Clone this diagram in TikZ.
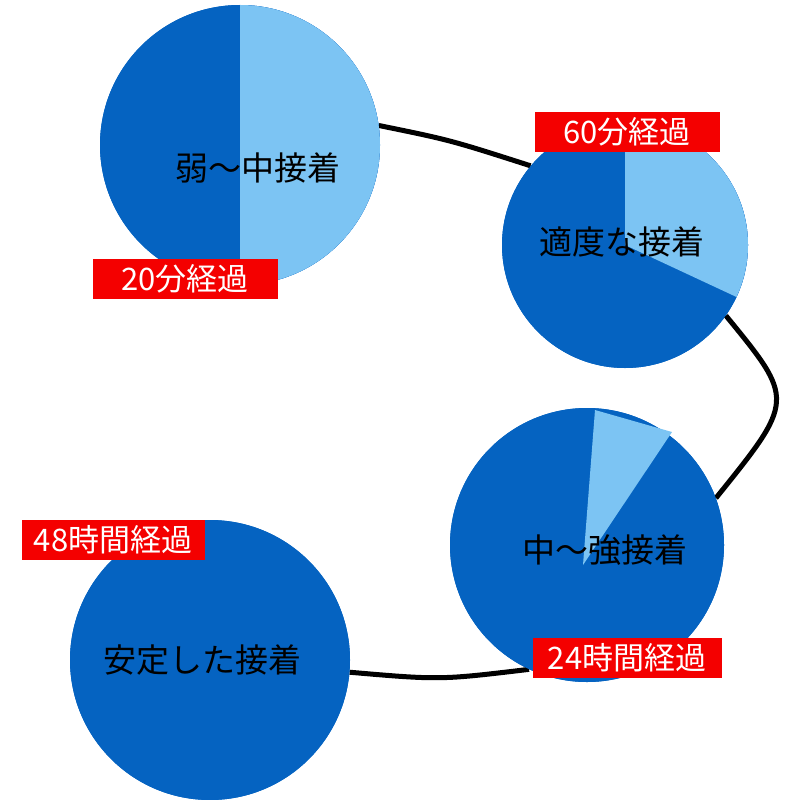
\documentclass[tikz,border=0pt]{standalone}
\usepackage{fontspec}
\newfontfamily\jp{Noto Sans CJK JP}
\definecolor{dk}{HTML}{0563C1}
\definecolor{lt}{HTML}{7CC4F3}
\definecolor{rd}{HTML}{F40000}
\begin{document}
\begin{tikzpicture}[x=1pt,y=-1pt,
  pie/.style={circle,fill=dk,inner sep=0pt},
  lbl/.style={fill=rd,text=white,font=\jp\fontsize{31}{34}\selectfont,inner sep=2pt,minimum height=40pt},
  ctr/.style={font=\jp\fontsize{33}{36}\selectfont,text=black},
  link/.style={line width=5pt,black}]
\useasboundingbox (0,0) rectangle (800,800);
\node[pie,minimum size=280pt] (c1) at (240,145) {};
\node[pie,minimum size=246pt] (c2) at (625,245) {};
\node[pie,minimum size=274pt] (c3) at (587,545) {};
\node[pie,minimum size=280pt] (c4) at (210,660) {};
\draw[link] (c1.8) .. controls (450,140) .. (c2.140);
\draw[link] (c2.-35) .. controls (795,400) .. (c3.20);
\draw[link] (c3.-115) .. controls (440,680) .. (c4.-5);
\node[pie,minimum size=280pt] at (240,145) {};
\fill[lt] (240,5) arc[start angle=-90,end angle=90,radius=140] -- cycle;
\node[pie,minimum size=246pt] at (625,245) {};
\fill[lt] (625,245) -- ++(0,-123) arc[start angle=-90,end angle=25,radius=123] -- cycle;
\node[pie,minimum size=274pt] at (587,545) {};
\fill[lt] (583,565) -- (595,410) -- (672,432) -- cycle;
\node[pie,minimum size=280pt] at (210,660) {};
\node[ctr] (t1) at (258,168) {弱〜中接着};
\node[ctr] (t2) at (622,242) {適度な接着};
\node[ctr] (t3) at (605,550) {中〜強接着};
\node[ctr] (t4) at (202,660) {安定した接着};
\node[lbl,minimum width=185pt] (l1) at (185,279) {20分経過};
\node[lbl,minimum width=185pt] (l2) at (627,132) {60分経過};
\node[lbl,minimum width=183pt] (l3) at (113,540) {48時間経過};
\node[lbl,minimum width=189pt] (l4) at (627,658) {24時間経過};
\end{tikzpicture}
\end{document}
